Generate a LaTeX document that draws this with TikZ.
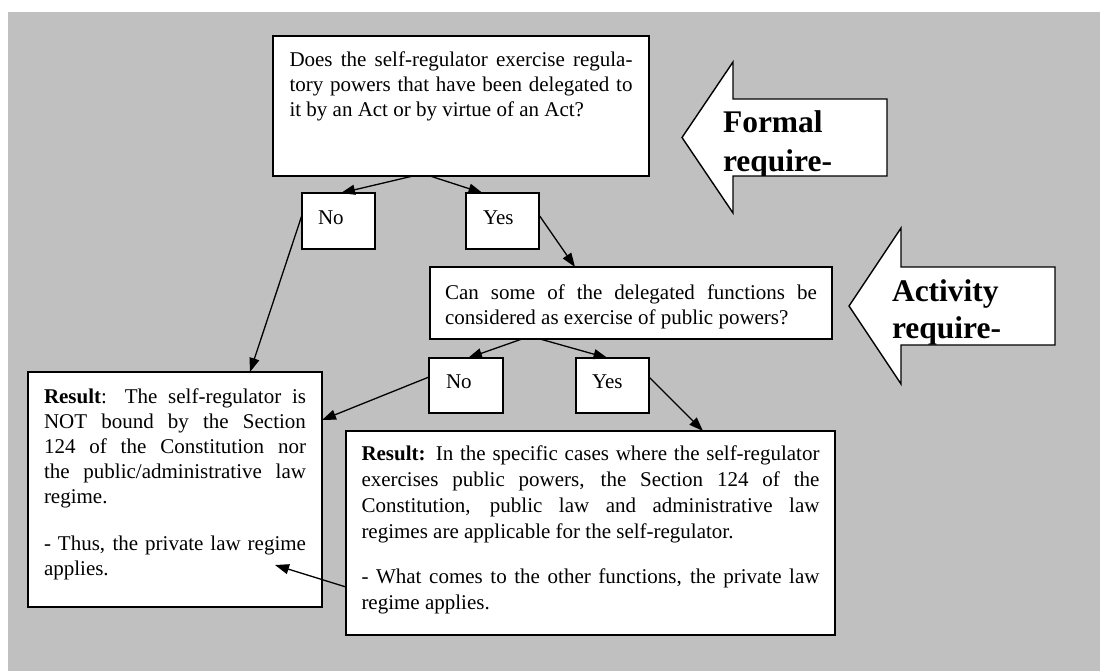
\documentclass[tikz,border=0pt]{standalone}
\usepackage{fontspec}
\setmainfont{Liberation Serif}
\usetikzlibrary{arrows.meta}
\definecolor{bggray}{RGB}{192,192,192}
\newcommand{\bodyfont}{\fontsize{21}{25}\selectfont}
\newcommand{\boxbody}[4]{\begin{minipage}[t][#1][t]{#2}\hyphenpenalty=10000\tolerance=10000\rule{0pt}{#3}#4\end{minipage}}
\begin{document}
\begin{tikzpicture}[x=1pt,y=-1pt,
  box/.style={draw, fill=white, line width=1.4pt, inner ysep=0pt, outer sep=0pt, anchor=north west, font=\bodyfont},
  conn/.style={line width=1.3pt, -{Triangle[length=14pt,width=10pt]}},
  bigarrow/.style={draw, fill=white, line width=1.4pt, line join=miter},
  arrowtext/.style={anchor=north west, inner sep=0pt, outer sep=0pt}]
\useasboundingbox (0,0) rectangle (1100,671);
\fill[bggray] (8,12) rectangle (1100,671);

% boxes
\node[box, inner xsep=16.5pt] (q1) at (273,36)
  {\boxbody{140pt}{343pt}{31pt}{Does the self-regulator exercise regula-\linebreak tory powers that have been delegated to\linebreak it by an Act or by virtue of an Act?}};
\node[box, inner xsep=16pt] (no1) at (302,193) {\boxbody{56pt}{41pt}{32pt}{No}};
\node[box, inner xsep=17pt] (yes1) at (466,193) {\boxbody{56pt}{39pt}{32pt}{Yes}};
\node[box, inner xsep=15pt] (q2) at (430,267)
  {\boxbody{72pt}{372pt}{32pt}{Can some of the delegated functions be\linebreak considered as exercise of public powers?}};
\node[box, inner xsep=17pt] (no2) at (429,358) {\boxbody{55pt}{40pt}{30pt}{No}};
\node[box, inner xsep=16pt] (yes2) at (576,358) {\boxbody{55pt}{41pt}{30pt}{Yes}};
\node[box, inner xsep=16pt] (r1) at (28,372)
  {\boxbody{235pt}{262pt}{31pt}{\textbf{Result}: The self-regulator is\linebreak NOT bound by the Section\linebreak 124 of the Constitution nor\linebreak the public/administrative law\linebreak regime.\par\vspace{22pt}- Thus, the private law regime\linebreak applies.}};
\node[box, inner xsep=15.5pt, font=\fontsize{21}{26}\selectfont] (r2) at (346,431)
  {\boxbody{204pt}{458pt}{29pt}{\textbf{Result:} In the specific cases where the self-regulator\linebreak exercises public powers, the Section 124 of the\linebreak Constitution, public law and administrative law\linebreak regimes are applicable for the self-regulator.\par\vspace{19pt}- What comes to the other functions, the private law\linebreak regime applies.}};

% block arrows
\draw[bigarrow] (887,99) -- (733,99) -- (733,62) -- (682,137.5) -- (733,213) -- (733,176) -- (887,176) -- cycle;
\begin{scope}
  \clip (682,99.7) rectangle (886.3,175.3);
  \node[arrowtext, font=\fontsize{31.5}{39}\selectfont\bfseries] (formal) at (723,99)
    {\begin{minipage}[t]{160pt}\rule{0pt}{34pt}Formal\par require-\end{minipage}};
\end{scope}
\draw[bigarrow] (1055,267) -- (901,267) -- (901,228) -- (849,306) -- (901,384) -- (901,345) -- (1055,345) -- cycle;
\begin{scope}
  \clip (849,267.7) rectangle (1054.3,344.3);
  \node[arrowtext, font=\fontsize{31.5}{37}\selectfont\bfseries] (activity) at (892,267)
    {\begin{minipage}[t]{160pt}\rule{0pt}{34pt}Activity\par require-\end{minipage}};
\end{scope}

% connectors
\draw[conn] ([xshift=-48pt]q1.south) -- ([xshift=2.5pt]no1.north);
\draw[conn] ([xshift=-31pt]q1.south) -- ([xshift=-20pt]yes1.north);
\draw[conn] ([yshift=6pt]no1.west) -- ([xshift=75pt]r1.north);
\draw[conn] ([yshift=6pt]yes1.east) -- ([xshift=-56pt]q2.north);
\draw[conn] ([xshift=-109pt]q2.south) -- ([xshift=2pt]no2.north);
\draw[conn] ([xshift=-91pt]q2.south) -- ([xshift=-5pt]yes2.north);
\draw[conn] ([yshift=8.5pt]no2.west) -- ([yshift=69.5pt]r1.east);
\draw[conn] ([yshift=8.5pt]yes2.east) -- ([xshift=112.5pt]r2.north);
\draw[conn] ([yshift=-54pt]r2.west) -- ([xshift=-47pt,yshift=-75.5pt]r1.east);
\end{tikzpicture}
\end{document}
